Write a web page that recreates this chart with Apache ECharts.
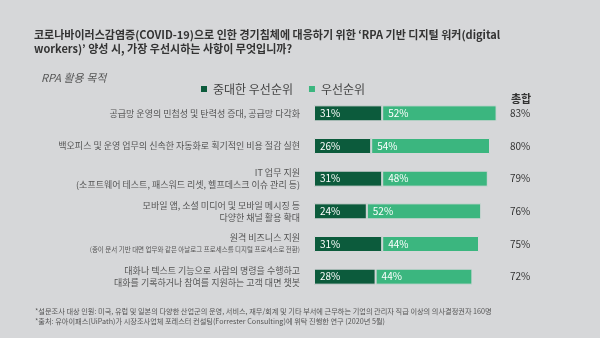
<!DOCTYPE html>
<html><head><meta charset="utf-8">
<script src="https://cdn.jsdelivr.net/npm/echarts@6/dist/echarts.min.js"></script>
<style>html,body{margin:0;padding:0;background:#d6d7d9;}#c{width:600px;height:338px;}</style>
</head><body><div id="c"></div>
<script>
const categories = [
  '공급망 운영의 민첩성 및 탄력성 증대, 공급망 다각화',
  '백오피스 및 운영 업무의 신속한 자동화로 획기적인 비용 절감 실현',
  'IT 업무 지원\n{s|(소프트웨어 테스트, 패스워드 리셋, 헬프데스크 이슈 관리 등)}',
  '모바일 앱, 소셜 미디어 및 모바일 메시징 등\n다양한 채널 활용 확대',
  '원격 비즈니스 지원\n{xs|(종이 문서 기반 대면 업무와 같은 아날로그 프로세스를 디지털 프로세스로 전환)}',
  '대화나 텍스트 기능으로 사람의 명령을 수행하고\n대화를 기록하거나 참여를 지원하는 고객 대면 챗봇'
];
const criticalPriority = [31, 26, 31, 24, 31, 28];
const highPriority = [52, 54, 48, 52, 44, 44];
const totals = [83, 80, 79, 76, 75, 72];
const seriesNames = ['중대한 우선순위', '우선순위'];

const chart = echarts.init(document.getElementById('c'));
const FONT = '"Noto Sans CJK KR", "Noto Sans", sans-serif';
const BG = '#d6d7d9';
chart.setOption({
  backgroundColor: BG,
  textStyle: { fontFamily: FONT },
  title: [{
    text: '코로나바이러스감염증(COVID-19)으로 인한 경기침체에 대응하기 위한 ‘RPA 기반 디지털 워커(digital\nworkers)’ 양성 시, 가장 우선시하는 사항이 무엇입니까?',
    left: 29, top: 23,
    textStyle: { fontSize: 11, fontWeight: 'bold', color: '#333', lineHeight: 14, fontFamily: FONT }
  }, {
    text: 'RPA 활용 목적', left: 36, top: 67,
    textStyle: { fontSize: 11, fontStyle: 'italic', fontWeight: 'normal', color: '#555', fontFamily: FONT }
  }, {
    text: '총합', left: 506, top: 88,
    textStyle: { fontSize: 11, fontWeight: 'bold', color: '#333', fontFamily: FONT }
  }, {
    text: '*설문조사 대상 인원: 미국, 유럽 및 일본의 다양한 산업군의 운영, 서비스, 재무/회계 및 기타 부서에 근무하는 기업의 관리자 직급 이상의 의사결정권자 160명\n*출처: 유아이패스(UiPath)가 시장조사업체 포레스터 컨설팅(Forrester Consulting)에 위탁 진행한 연구 (2020년 5월)',
    left: 30, top: 301,
    textStyle: { fontSize: 7.2, fontWeight: 'normal', color: '#555', lineHeight: 10.5, fontFamily: FONT }
  }],
  legend: {
    data: seriesNames, left: 194, top: 78, itemWidth: 8, itemHeight: 8, itemGap: 14,
    icon: 'rect',
    textStyle: { fontSize: 12, color: '#444', fontFamily: FONT }
  },
  grid: { left: 314, right: 99, top: 97, height: 196, containLabel: false },
  xAxis: { type: 'value', min: 0, max: 85, show: false },
  yAxis: [{
    type: 'category', data: categories, inverse: true,
    axisLine: { show: false }, axisTick: { show: false },
    axisLabel: {
      margin: 14, color: '#555', fontSize: 9, lineHeight: 12, align: 'right',
      rich: { s: { fontSize: 9, color: '#555', lineHeight: 12 }, xs: { fontSize: 6.5, color: '#555', lineHeight: 12 } }
    }
  }, {
    type: 'category', data: totals, inverse: true, position: 'right',
    axisLine: { show: false }, axisTick: { show: false },
    axisLabel: { margin: 9, color: '#333', fontSize: 10, align: 'left', formatter: v => v + '%' }
  }],
  series: [{
    name: seriesNames[0], type: 'bar', stack: 't', data: criticalPriority, barWidth: 16,
    itemStyle: { color: '#0c5b3c', borderColor: BG, borderWidth: 1 },
    label: { show: true, position: 'insideLeft', offset: [1, 0], color: '#fff', fontSize: 10, formatter: '{c}%' }
  }, {
    name: seriesNames[1], type: 'bar', stack: 't', data: highPriority, barWidth: 16,
    itemStyle: { color: '#3bb67f', borderColor: BG, borderWidth: 1 },
    label: { show: true, position: 'insideLeft', offset: [1, 0], color: '#fff', fontSize: 10, formatter: '{c}%' }
  }]
});
</script></body></html>
